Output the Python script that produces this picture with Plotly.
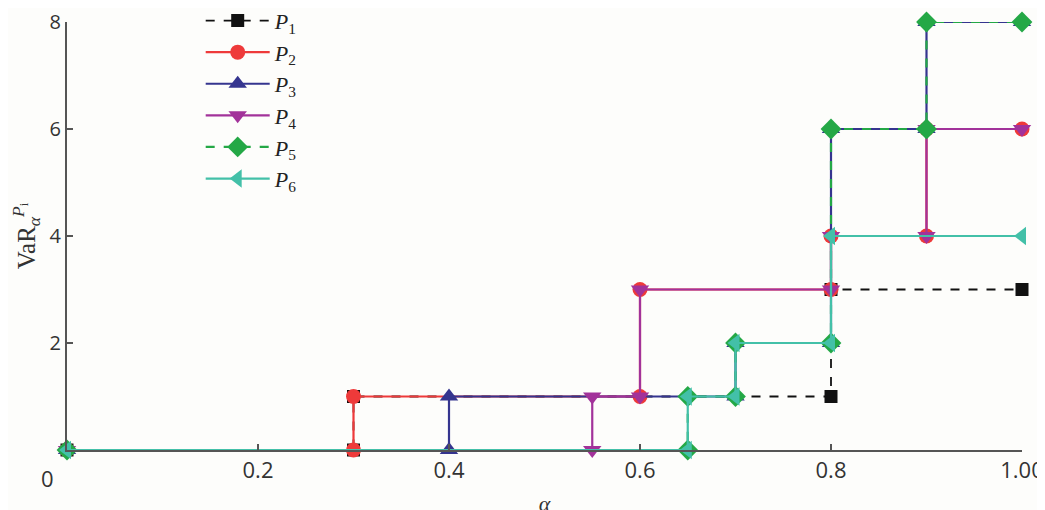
import plotly.graph_objects as go

# Data: step points (alpha, VaR) for each portfolio
p1_x = [0, 0.3, 0.3, 0.8, 0.8, 1.0]
p1_y = [0, 0, 1, 1, 3, 3]
p2_x = [0, 0.3, 0.3, 0.6, 0.6, 0.8, 0.8, 0.9, 0.9, 1.0]
p2_y = [0, 0, 1, 1, 3, 3, 4, 4, 6, 6]
p3_x = [0, 0.4, 0.4, 0.7, 0.7, 0.8, 0.8, 0.9, 0.9, 1.0]
p3_y = [0, 0, 1, 1, 2, 2, 6, 6, 8, 8]
p4_x = [0, 0.55, 0.55, 0.6, 0.6, 0.8, 0.8, 0.9, 0.9, 1.0]
p4_y = [0, 0, 1, 1, 3, 3, 4, 4, 6, 6]
p5_x = [0, 0.65, 0.65, 0.7, 0.7, 0.8, 0.8, 0.9, 0.9, 1.0]
p5_y = [0, 0, 1, 1, 2, 2, 6, 6, 8, 8]
p6_x = [0, 0.65, 0.65, 0.7, 0.7, 0.8, 0.8, 1.0]
p6_y = [0, 0, 1, 1, 2, 2, 4, 4]

names = ["<i>P</i><sub>1</sub>", "<i>P</i><sub>2</sub>", "<i>P</i><sub>3</sub>",
         "<i>P</i><sub>4</sub>", "<i>P</i><sub>5</sub>", "<i>P</i><sub>6</sub>"]
x_ticks = [0.2, 0.4, 0.6, 0.8, 1.0]
x_tick_text = ["0.2", "0.4", "0.6", "0.8", "1.00"]
y_ticks = [2, 4, 6, 8]

series = [
    (p1_x, p1_y, "#111111", "dash", "square", 13, 1.8),
    (p2_x, p2_y, "#ee3a3a", "solid", "circle", 15, 2.2),
    (p3_x, p3_y, "#35358f", "solid", "triangle-up", 16, 2.2),
    (p4_x, p4_y, "#a2329a", "solid", "triangle-down", 16, 2.2),
    (p5_x, p5_y, "#24a846", "dash", "diamond", 16, 2.2),
    (p6_x, p6_y, "#43c0a8", "solid", "triangle-left", 16, 2.2),
]

fig = go.Figure()
for (xs, ys, col, dash, sym, size, w), nm in zip(series, names):
    fig.add_trace(go.Scatter(
        x=xs, y=ys, mode="lines+markers", name=nm,
        line=dict(color=col, width=w, dash=dash),
        marker=dict(symbol=sym, size=size, color=col, line=dict(width=0)),
        cliponaxis=False,
    ))

fig.update_layout(
    width=1045, height=510,
    margin=dict(l=59, r=31, t=14, b=68, autoexpand=False),
    paper_bgcolor="#fdfdfb", plot_bgcolor="#fdfdfb",
    font=dict(family="Open Sans", size=22, color="#333333"),
    showlegend=True,
    legend=dict(x=0.14, y=1.052, xanchor="left", yanchor="top",
                bgcolor="rgba(0,0,0,0)", tracegroupgap=0,
                font=dict(family="Liberation Serif", size=22, color="#222222"),
                itemwidth=64),
)
fig.update_xaxes(range=[0, 1], tickvals=x_ticks, ticktext=x_tick_text,
                 showgrid=False, zeroline=False, showline=True,
                 linecolor="#555555", linewidth=2, ticks="inside", ticklen=6,
                 tickcolor="#555555", tickwidth=1.5,
                 title=dict(text="<i>α</i>", font=dict(family="Liberation Serif", size=22), standoff=12))
fig.update_yaxes(range=[0, 8], tickvals=y_ticks, showgrid=False, zeroline=False,
                 showline=True, linecolor="#555555", linewidth=2, ticks="inside",
                 ticklen=6, tickcolor="#555555", tickwidth=1.5,
                 tickfont=dict(size=20),
                 title=dict(text="VaR<sub><i>α</i></sub><sup><i>P</i><sub>i</sub></sup>",
                            font=dict(family="Liberation Serif", size=25), standoff=10))
fig.add_annotation(text="0", xref="paper", yref="paper", x=-0.02, y=-0.065,
                   xanchor="center", yanchor="middle",
                   showarrow=False, font=dict(family="Open Sans", size=22, color="#333333"))

fig.write_html("out.html")
